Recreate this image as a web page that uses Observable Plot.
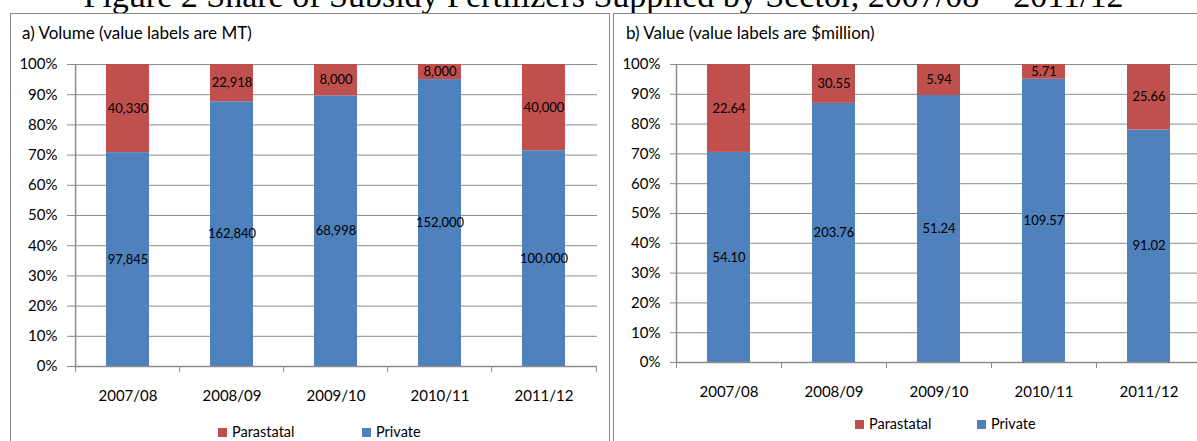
<!DOCTYPE html>
<html>
<head>
<meta charset="utf-8">
<script src="https://cdn.jsdelivr.net/npm/d3@7"></script>
<script src="https://cdn.jsdelivr.net/npm/@observablehq/plot@0.6"></script>
<style>
  html, body { margin: 0; padding: 0; background: #fff; }
  #root { position: relative; width: 1197px; height: 441px; overflow: hidden; background: #fff; font-family: Lato, "Open Sans", sans-serif; color: #000; }
  .fig-title { position: absolute; left: 5px; top: -21px; width: 1197px; text-align: center; white-space: nowrap;
               font-family: "Liberation Serif", "Times New Roman", serif; font-size: 34px; line-height: 34px; color: #000; }
  .panel { position: absolute; box-sizing: border-box; border: 1px solid #8a8a8a; background: transparent; }
  .panel-title { position: absolute; font-size: 17px; line-height: 20px; white-space: nowrap; color: #000; }
  .chart { position: absolute; }
  .lg-sw { position: absolute; width: 9px; height: 9px; }
  .lg-tx { position: absolute; font-size: 14.5px; line-height: 16px; white-space: nowrap; color: #000; }
</style>
</head>
<body>
<div id="root"></div>
<script>
// ---------------- data ----------------
const years = ["2007/08", "2008/09", "2009/10", "2010/11", "2011/12"];
const sectors = ["Parastatal", "Private"];
const sectorColors = ["#C0504D", "#4F81BD"];
// a) Volume, metric tonnes
const volumePrivate    = [97845, 162840, 68998, 152000, 100000];
const volumeParastatal = [40330, 22918, 8000, 8000, 40000];
// b) Value, $ million
const valuePrivate    = [54.10, 203.76, 51.24, 109.57, 91.02];
const valueParastatal = [22.64, 30.55, 5.94, 5.71, 25.66];
const yTicks = [0, 0.1, 0.2, 0.3, 0.4, 0.5, 0.6, 0.7, 0.8, 0.9, 1.0];

const figTitle = "Figure 2 Share of Subsidy Fertilizers Supplied by Sector, 2007/08 \u2013 2011/12";
const titleA = "a) Volume (value labels are MT)";
const titleB = "b) Value (value labels are $million)";

// ---------------- layout ----------------
const GRID = "#8c8c8c";
const root = document.getElementById("root");

function el(tag, cls, style, text) {
  const e = document.createElement(tag);
  if (cls) e.className = cls;
  Object.assign(e.style, style || {});
  if (text != null) e.textContent = text;
  root.appendChild(e);
  return e;
}

el("div", "fig-title", {}, figTitle);
el("div", "panel", {left: "10px", top: "13px", width: "600px", height: "460px"});
el("div", "panel", {left: "613px", top: "13px", width: "700px", height: "460px"});

function buildChart({priv, para, fmt, left, width, marginLeft, marginRight, marginBottom}) {
  const data = [];
  years.forEach((yr, i) => {
    data.push({year: yr, sector: "Private", value: priv[i]});
    data.push({year: yr, sector: "Parastatal", value: para[i]});
  });
  const height = 370, marginTop = 24;
  const frameH = height - marginTop - marginBottom;
  const step = (width - marginLeft - marginRight) / years.length;
  const chart = Plot.plot({
    width, height, marginLeft, marginRight, marginTop, marginBottom,
    style: {fontFamily: "Lato, 'Open Sans', sans-serif", fontSize: "15px", color: "#000", background: "transparent", overflow: "visible"},
    x: {domain: years, paddingInner: 0.59, paddingOuter: 0.295, axis: null, label: null},
    y: {domain: [0, 1], axis: null, label: null},
    color: {domain: sectors, range: sectorColors},
    marks: [
      Plot.gridY(yTicks, {stroke: GRID, strokeOpacity: 1}),
      Plot.barY(data, {x: "year", y: "value", fill: "sector", offset: "normalize"}),
      Plot.ruleY([0], {stroke: GRID, strokeWidth: 1.5}),
      Plot.ruleX([years[0]], {x: d => d, dx: -step / 2, stroke: GRID, strokeWidth: 1.5}),
      Plot.tickX(years, {x: d => d, dx: -step / 2, insetTop: frameH - 6, dy: 6, stroke: GRID}),
      Plot.tickX([years[years.length - 1]], {x: d => d, dx: step / 2, insetTop: frameH - 6, dy: 6, stroke: GRID}),
      Plot.axisY(yTicks, {label: null, tickSize: 6, tickPadding: 10, tickFormat: d3.format(".0%"), stroke: GRID, fill: "#000", fontSize: 15}),
      Plot.axisX({label: null, tickSize: 0, tickPadding: 24, fill: "#000", fontSize: 15}),
      Plot.text(data, Plot.stackY({x: "year", y: "value", offset: "normalize", text: d => fmt(d.value), fill: "#000", fontSize: 13}))
    ]
  });
  chart.classList.add("chart");
  chart.style.left = left + "px";
  chart.style.top = "40px";
  root.appendChild(chart);
}

buildChart({priv: volumePrivate, para: volumeParastatal, fmt: d3.format(","),
            left: 0, width: 609, marginLeft: 73, marginRight: 12, marginBottom: 44});
buildChart({priv: valuePrivate, para: valueParastatal, fmt: d3.format(".2f"),
            left: 600, width: 700, marginLeft: 76, marginRight: 99, marginBottom: 48});

el("div", "panel-title", {left: "22px", top: "23px"}, titleA);
el("div", "panel-title", {left: "626px", top: "23px"}, titleB);

function legend(xs, yCenter) {
  sectors.forEach((s, i) => {
    el("div", "lg-sw", {left: xs[i] + "px", top: (yCenter - 4.5) + "px", background: sectorColors[i]});
    el("div", "lg-tx", {left: (xs[i] + 14) + "px", top: (yCenter - 8) + "px"}, s);
  });
}
legend([218, 362], 432);
legend([855, 977], 424);
</script>
</body>
</html>
